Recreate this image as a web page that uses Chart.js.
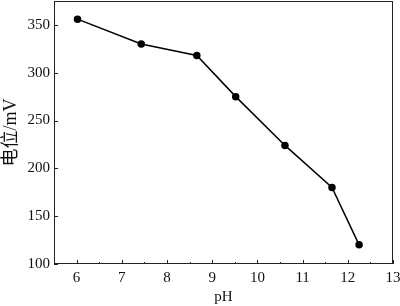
<!DOCTYPE html>
<html>
<head>
<meta charset="utf-8">
<script src="https://cdn.jsdelivr.net/npm/chart.js@4"></script>
<style>
  html, body { margin: 0; padding: 0; background: #fff; }
  #wrap { width: 400px; height: 306px; position: relative; }
</style>
</head>
<body>
<div id="wrap"><canvas id="c"></canvas></div>
<script>
const phValues = [6.02, 7.43, 8.66, 9.52, 10.61, 11.65, 12.25];
const potentials = [356, 330, 318, 275, 224, 180, 120];
const xTicks = [6, 7, 8, 9, 10, 11, 12, 13];
const yTicks = [100, 150, 200, 250, 300, 350];

const FONT = "'Liberation Serif', 'Times New Roman', serif";
const CJK_FONT = "'Liberation Serif', 'Noto Sans CJK SC', serif";

// frame + inward ticks
const framePlugin = {
  id: 'frame',
  afterDraw(chart) {
    const { ctx, chartArea: a, scales } = chart;
    ctx.save();
    ctx.strokeStyle = '#222';
    ctx.lineWidth = 1;
    ctx.strokeRect(a.left + 0.5, a.top + 0.5, a.right - a.left - 1, a.bottom - a.top - 1);
    ctx.beginPath();
    xTicks.forEach(v => {
      const x = Math.round(scales.x.getPixelForValue(v)) + 0.5;
      ctx.moveTo(x, a.bottom); ctx.lineTo(x, a.bottom - 4);
    });
    xTicks.slice(0, -1).forEach(v => {
      const x = Math.round(scales.x.getPixelForValue(v + 0.5)) + 0.5;
      ctx.moveTo(x, a.bottom); ctx.lineTo(x, a.bottom - 2);
    });
    yTicks.forEach(v => {
      const y = Math.round(scales.y.getPixelForValue(v)) + 0.5;
      ctx.moveTo(a.left, y); ctx.lineTo(a.left + 4, y);
    });
    ctx.stroke();
    ctx.restore();
  }
};

new Chart(document.getElementById('c'), {
  type: 'scatter',
  data: {
    datasets: [{
      data: phValues.map((x, i) => ({ x, y: potentials[i] })),
      showLine: true,
      borderColor: '#000',
      backgroundColor: '#000',
      borderWidth: 1.5,
      pointRadius: 3,
      pointHoverRadius: 3
    }]
  },
  options: {
    responsive: true,
    maintainAspectRatio: false,
    animation: false,
    layout: { autoPadding: false, padding: { top: 1, right: 7, left: 0, bottom: 0 } },
    plugins: { legend: { display: false }, tooltip: { enabled: false } },
    scales: {
      x: {
        type: 'linear', min: 5.5, max: 13,
        afterFit: s => { s.height = 42; s.paddingLeft = 0; s.paddingRight = 0; },
        afterBuildTicks: s => { s.ticks = xTicks.map(v => ({ value: v })); },
        grid: { display: false, drawTicks: true, tickLength: 5 },
        border: { display: false },
        ticks: { color: '#111', padding: 0, font: { family: FONT, size: 15 } },
        title: { display: true, text: 'pH', color: '#111', padding: 0, font: { family: FONT, size: 15 } }
      },
      y: {
        type: 'linear', min: 100, max: 375,
        afterFit: s => { s.width = 54; s.paddingTop = 0; s.paddingBottom = 0; },
        afterBuildTicks: s => { s.ticks = yTicks.map(v => ({ value: v })); },
        grid: { display: false, drawTicks: true, tickLength: 4 },
        border: { display: false },
        ticks: { color: '#111', padding: 0, font: { family: FONT, size: 15 } },
        title: { display: true, text: '电位/mV', color: '#111', padding: 0, font: { family: CJK_FONT, size: 18 } }
      }
    }
  },
  plugins: [framePlugin]
});
</script>
</body>
</html>
